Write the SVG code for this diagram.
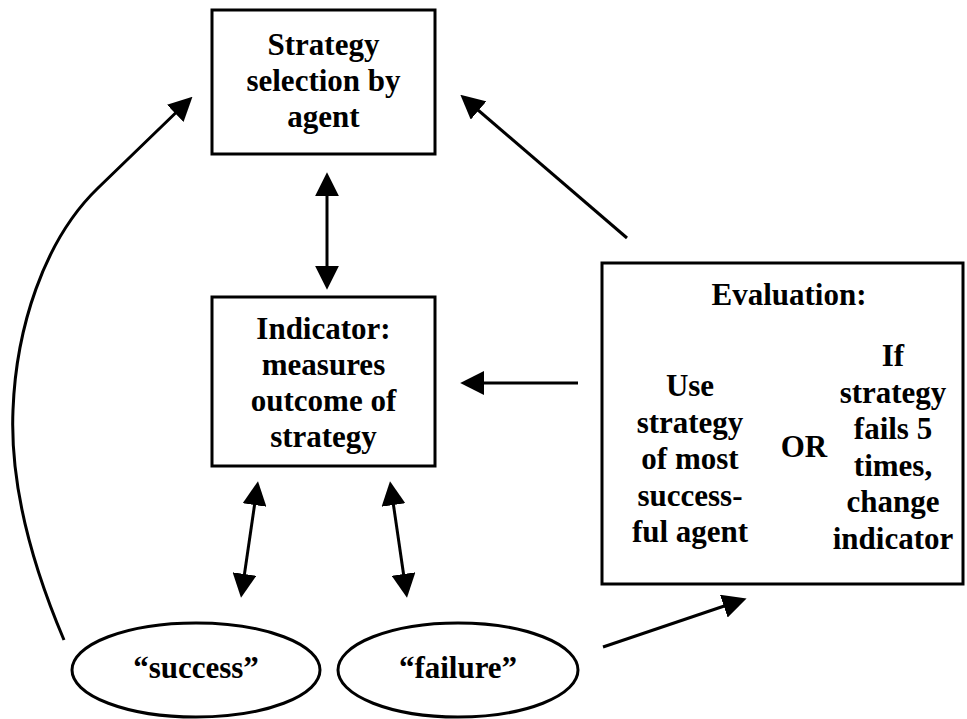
<svg xmlns="http://www.w3.org/2000/svg" width="967" height="719" viewBox="0 0 967 719">
<style>
.box{fill:#fff;stroke:#000;stroke-width:3}
.t{font-family:'Liberation Serif','Times New Roman',serif;font-weight:bold;font-size:31px;text-anchor:middle;fill:#000}
.c{fill:none;stroke:#000;stroke-width:3}
</style>
<defs>
<marker id="ah" viewBox="0 0 10 10" refX="8" refY="5" markerWidth="8" markerHeight="8" markerUnits="strokeWidth" orient="auto-start-reverse">
<path d="M0,0 L10,5 L0,10 z" fill="#000"/>
</marker>
</defs>
<g id="connectors">
<path class="c" d="M64,640 C30,560 10,480 13,410 C16,330 43,241 98,188 L189,100" marker-end="url(#ah)"/>
<line class="c" x1="327" y1="177" x2="327" y2="285" marker-start="url(#ah)" marker-end="url(#ah)"/>
<line class="c" x1="627" y1="238" x2="464" y2="98" marker-end="url(#ah)"/>
<line class="c" x1="578" y1="383" x2="465" y2="383" marker-end="url(#ah)"/>
<line class="c" x1="257.3" y1="486" x2="241.7" y2="593" marker-start="url(#ah)" marker-end="url(#ah)"/>
<line class="c" x1="390.7" y1="486" x2="406.3" y2="593" marker-start="url(#ah)" marker-end="url(#ah)"/>
<line class="c" x1="603" y1="647" x2="742" y2="600" marker-end="url(#ah)"/>
</g>
<g id="strategy">
<rect class="box" x="212" y="10" width="223" height="144"/>
<text class="t" x="323.5" y="55">Strategy</text>
<text class="t" x="323.5" y="91">selection by</text>
<text class="t" x="323.5" y="127">agent</text>
</g>
<g id="indicator">
<rect class="box" x="212" y="297" width="223" height="169"/>
<text class="t" x="323.5" y="339">Indicator:</text>
<text class="t" x="323.5" y="375">measures</text>
<text class="t" x="323.5" y="411">outcome of</text>
<text class="t" x="323.5" y="447">strategy</text>
</g>
<g id="evaluation">
<rect class="box" x="602" y="263" width="361" height="321"/>
<text class="t" x="789" y="305">Evaluation:</text>
<text class="t" x="690" y="396">Use</text>
<text class="t" x="690" y="432.5">strategy</text>
<text class="t" x="690" y="469">of most</text>
<text class="t" x="690" y="505.5">success-</text>
<text class="t" x="690" y="542">ful agent</text>
<text class="t" x="804" y="457">OR</text>
<text class="t" x="893" y="366">If</text>
<text class="t" x="893" y="402.5">strategy</text>
<text class="t" x="893" y="439">fails 5</text>
<text class="t" x="893" y="475.5">times,</text>
<text class="t" x="893" y="512">change</text>
<text class="t" x="893" y="548.5">indicator</text>
</g>
<g id="success">
<ellipse class="box" cx="196" cy="670" rx="124" ry="47"/>
<text class="t" x="196" y="678">“success”</text>
</g>
<g id="failure">
<ellipse class="box" cx="458" cy="670" rx="120" ry="47"/>
<text class="t" x="458" y="678">“failure”</text>
</g>
</svg>
